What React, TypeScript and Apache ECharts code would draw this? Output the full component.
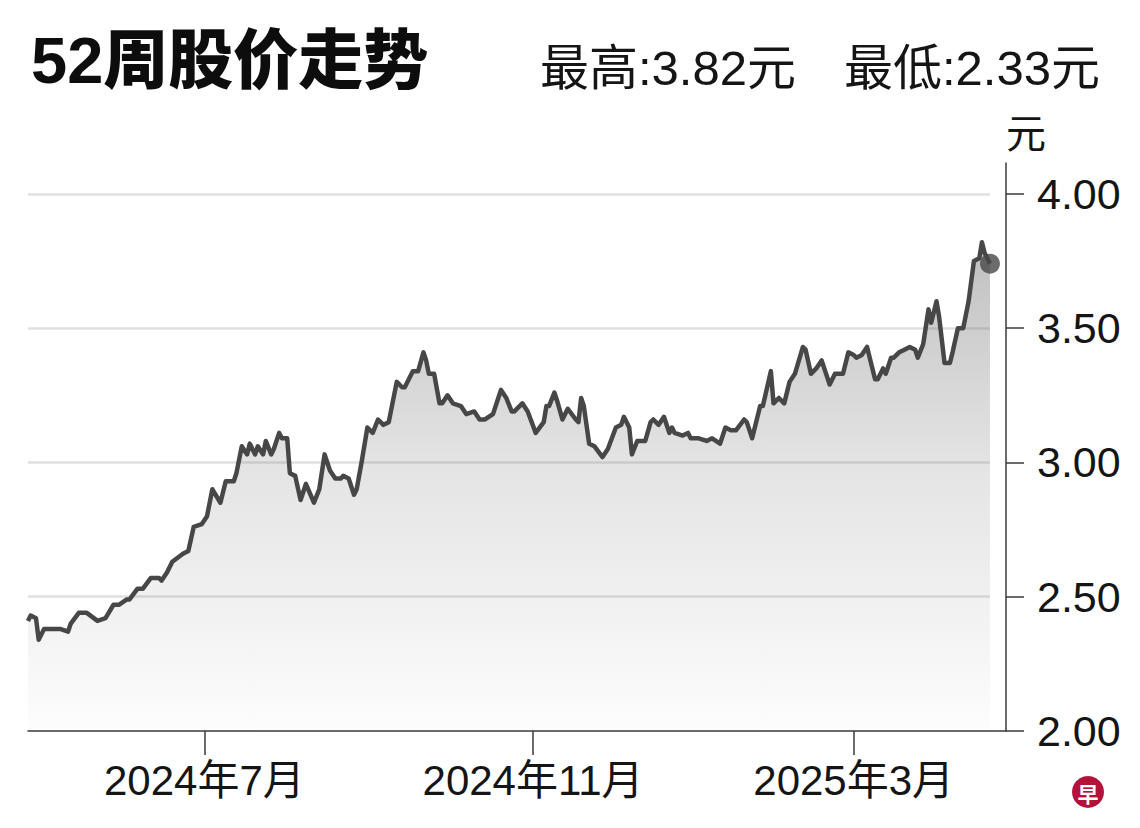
import { useEffect, useRef } from "react";
import * as echarts from "echarts";

const startDate = "2024-04-26";
const dayCount = 367;
const monthTicks = ["2024-07-01", "2024-11-01", "2025-03-01"];
const yTicks = [2, 2.5, 3, 3.5, 4];
const yMax = 4.115;

const titleText = "52周股价走势";
const highText = "最高:3.82元";
const lowText = "最低:2.33元";
const unitText = "元";

// closing price
const priceDates = [
  "2024-04-26", "2024-04-27", "2024-04-29", "2024-04-30", "2024-05-02", "2024-05-08", "2024-05-11", "2024-05-12", "2024-05-15", "2024-05-18",
  "2024-05-22", "2024-05-25", "2024-05-28", "2024-05-30", "2024-06-02", "2024-06-03", "2024-06-06", "2024-06-08", "2024-06-11", "2024-06-14",
  "2024-06-15", "2024-06-17", "2024-06-19", "2024-06-23", "2024-06-25", "2024-06-27", "2024-06-30", "2024-07-02", "2024-07-04", "2024-07-07",
  "2024-07-09", "2024-07-12", "2024-07-13", "2024-07-15", "2024-07-17", "2024-07-18", "2024-07-20", "2024-07-21", "2024-07-23", "2024-07-24",
  "2024-07-26", "2024-07-27", "2024-07-29", "2024-07-30", "2024-08-01", "2024-08-02", "2024-08-04", "2024-08-06", "2024-08-08", "2024-08-11",
  "2024-08-13", "2024-08-15", "2024-08-17", "2024-08-19", "2024-08-21", "2024-08-22", "2024-08-24", "2024-08-26", "2024-08-27", "2024-08-29",
  "2024-08-31", "2024-09-02", "2024-09-04", "2024-09-06", "2024-09-08", "2024-09-11", "2024-09-13", "2024-09-14", "2024-09-17", "2024-09-19",
  "2024-09-21", "2024-09-22", "2024-09-23", "2024-09-25", "2024-09-27", "2024-09-28", "2024-09-30", "2024-10-02", "2024-10-05", "2024-10-07",
  "2024-10-10", "2024-10-12", "2024-10-14", "2024-10-17", "2024-10-20", "2024-10-22", "2024-10-24", "2024-10-25", "2024-10-28", "2024-10-30",
  "2024-11-02", "2024-11-05", "2024-11-06", "2024-11-07", "2024-11-09", "2024-11-10", "2024-11-12", "2024-11-14", "2024-11-17", "2024-11-18",
  "2024-11-19", "2024-11-20", "2024-11-22", "2024-11-24", "2024-11-27", "2024-11-29", "2024-12-02", "2024-12-04", "2024-12-05", "2024-12-07",
  "2024-12-08", "2024-12-10", "2024-12-13", "2024-12-15", "2024-12-16", "2024-12-18", "2024-12-20", "2024-12-22", "2024-12-23", "2024-12-24",
  "2024-12-27", "2024-12-29", "2024-12-30", "2025-01-02", "2025-01-05", "2025-01-07", "2025-01-10", "2025-01-12", "2025-01-14", "2025-01-16",
  "2025-01-19", "2025-01-20", "2025-01-22", "2025-01-25", "2025-01-26", "2025-01-29", "2025-01-30", "2025-02-01", "2025-02-03", "2025-02-05",
  "2025-02-07", "2025-02-10", "2025-02-11", "2025-02-13", "2025-02-15", "2025-02-17", "2025-02-20", "2025-02-22", "2025-02-25", "2025-02-27",
  "2025-03-01", "2025-03-02", "2025-03-04", "2025-03-06", "2025-03-09", "2025-03-10", "2025-03-12", "2025-03-13", "2025-03-15", "2025-03-16",
  "2025-03-18", "2025-03-20", "2025-03-22", "2025-03-24", "2025-03-25", "2025-03-27", "2025-03-29", "2025-03-30", "2025-04-01", "2025-04-02",
  "2025-04-04", "2025-04-06", "2025-04-07", "2025-04-09", "2025-04-11", "2025-04-13", "2025-04-15", "2025-04-17", "2025-04-18", "2025-04-19",
  "2025-04-21"
];

const priceValues = [
  2.41, 2.43, 2.42, 2.34, 2.38, 2.38, 2.37, 2.40, 2.44, 2.44,
  2.41, 2.42, 2.47, 2.47, 2.49, 2.49, 2.53, 2.53, 2.57, 2.57,
  2.56, 2.59, 2.63, 2.66, 2.67, 2.76, 2.77, 2.80, 2.90, 2.85,
  2.93, 2.93, 2.96, 3.06, 3.03, 3.07, 3.03, 3.06, 3.03, 3.08,
  3.03, 3.05, 3.11, 3.09, 3.09, 2.96, 2.95, 2.86, 2.92, 2.85,
  2.90, 3.03, 2.97, 2.94, 2.94, 2.95, 2.94, 2.88, 2.90, 3.01,
  3.13, 3.11, 3.16, 3.14, 3.15, 3.30, 3.28, 3.28, 3.34, 3.34,
  3.41, 3.38, 3.33, 3.33, 3.22, 3.22, 3.25, 3.22, 3.21, 3.18,
  3.19, 3.16, 3.16, 3.18, 3.27, 3.24, 3.19, 3.19, 3.22, 3.19,
  3.11, 3.15, 3.21, 3.21, 3.26, 3.23, 3.16, 3.20, 3.16, 3.15,
  3.24, 3.21, 3.07, 3.06, 3.02, 3.05, 3.13, 3.14, 3.17, 3.13,
  3.03, 3.08, 3.08, 3.15, 3.16, 3.14, 3.17, 3.11, 3.13, 3.11,
  3.10, 3.11, 3.09, 3.09, 3.08, 3.09, 3.07, 3.13, 3.12, 3.12,
  3.16, 3.15, 3.09, 3.21, 3.21, 3.34, 3.22, 3.24, 3.22, 3.30,
  3.33, 3.43, 3.42, 3.33, 3.35, 3.38, 3.29, 3.33, 3.33, 3.41,
  3.40, 3.39, 3.40, 3.43, 3.31, 3.31, 3.35, 3.33, 3.39, 3.39,
  3.41, 3.42, 3.43, 3.42, 3.39, 3.44, 3.57, 3.52, 3.60, 3.54,
  3.37, 3.37, 3.41, 3.50, 3.50, 3.60, 3.75, 3.76, 3.82, 3.78,
  3.74
];

const NUM_FONT = '"Liberation Sans", "Noto Sans CJK SC", sans-serif';
const CJK_FONT = '"Noto Sans CJK SC", sans-serif';
const TEXT = "#151515";
const AXIS = "#3a3a3a";
const LINE = "#474747";

function buildDays(start: string, count: number) {
  const t0 = Date.parse(start + "T00:00:00Z");
  const days: string[] = [];
  for (let i = 0; i < count; i++) {
    days.push(new Date(t0 + i * 86400000).toISOString().slice(0, 10));
  }
  return days;
}

function monthLabel(day: string) {
  const [y, m] = day.split("-");
  return `${y}年${Number(m)}月`;
}

export default function App() {
  const chartRef = useRef<HTMLDivElement | null>(null);

  useEffect(() => {
    if (!chartRef.current) {
      return;
    }
    const chart = echarts.init(chartRef.current, null, { renderer: "svg" });

    const days = buildDays(startDate, dayCount);
    const points = priceDates.map((d, i) => [d, priceValues[i]]);
    const firstDay = priceDates[0];
    const lastDay = priceDates[priceDates.length - 1];
    const isMonthTick = (_: number, value: string) => monthTicks.includes(value);

    chart.setOption({
      animation: false,
      title: [
        {
          text: titleText,
          left: 26,
          top: 23,
          textStyle: { fontSize: 65, fontWeight: 900, color: "#0d0d0d", fontFamily: '"Liberation Sans", "Noto Sans CJK SC", sans-serif' }
        },
        {
          text: highText,
          left: 535,
          top: 38,
          textStyle: { fontSize: 49, fontWeight: "normal", color: TEXT, fontFamily: NUM_FONT }
        },
        {
          text: lowText,
          left: 839,
          top: 38,
          textStyle: { fontSize: 49, fontWeight: "normal", color: TEXT, fontFamily: NUM_FONT }
        }
      ],
      grid: { left: 28, right: 134, top: 163, bottom: 97 },
      xAxis: {
        type: "category",
        data: days,
        boundaryGap: false,
        axisLine: { lineStyle: { color: AXIS, width: 1.5 } },
        axisTick: { show: true, interval: isMonthTick, length: 24, lineStyle: { color: AXIS, width: 1.5 } },
        axisLabel: {
          interval: isMonthTick,
          formatter: monthLabel,
          margin: 28,
          fontSize: 42,
          color: TEXT,
          fontFamily: NUM_FONT
        },
        splitLine: { show: false }
      },
      yAxis: {
        type: "value",
        position: "right",
        min: yTicks[0],
        max: yMax,
        name: unitText,
        nameLocation: "end",
        nameGap: 12,
        nameTextStyle: { fontSize: 40, color: TEXT, align: "left", fontFamily: CJK_FONT },
        axisLine: { show: true, lineStyle: { color: AXIS, width: 1.5 } },
        axisTick: { show: true, length: 18, customValues: yTicks, lineStyle: { color: AXIS, width: 1.5 } },
        axisLabel: {
          customValues: yTicks,
          formatter: (v: number) => v.toFixed(2),
          margin: 31,
          fontSize: 43,
          color: TEXT,
          fontFamily: NUM_FONT
        },
        splitLine: { show: false }
      },
      series: [
        {
          type: "line",
          data: points,
          showSymbol: false,
          symbol: "none",
          z: 2,
          lineStyle: { color: LINE, width: 4.5, join: "round" },
          areaStyle: {
            color: new echarts.graphic.LinearGradient(0, 0, 0, 1, [
              { offset: 0, color: "rgba(105,105,105,0.6)" },
              { offset: 0.45, color: "rgba(105,105,105,0.26)" },
              { offset: 1, color: "rgba(105,105,105,0.02)" }
            ])
          },
          markLine: {
            silent: true,
            z: 1,
            symbol: ["none", "none"],
            label: { show: false },
            lineStyle: { color: "#e0e0e0", width: 2.5, type: "solid" },
            data: yTicks.slice(1).map((v) => [
              { coord: [firstDay, v] },
              { coord: [lastDay, v] }
            ])
          }
        },
        {
          type: "scatter",
          data: [points[points.length - 1]],
          symbolSize: 20,
          z: 3,
          itemStyle: { color: LINE }
        }
      ],
      graphic: [
        {
          type: "group",
          children: [
            {
              type: "circle",
              shape: { cx: 1088, cy: 792, r: 16 },
              style: { fill: "#b3123b" }
            },
            {
              type: "text",
              x: 1088,
              y: 793,
              style: {
                text: "早",
                fill: "#ffffff",
                fontSize: 21,
                fontWeight: "bold",
                fontFamily: CJK_FONT,
                align: "center",
                verticalAlign: "middle"
              }
            }
          ]
        }
      ]
    });

    return () => {
      chart.dispose();
    };
  }, []);

  return (
    <div
      ref={chartRef}
      style={{ position: "absolute", left: 0, top: 0, width: 1140, height: 828, background: "#ffffff" }}
    />
  );
}
